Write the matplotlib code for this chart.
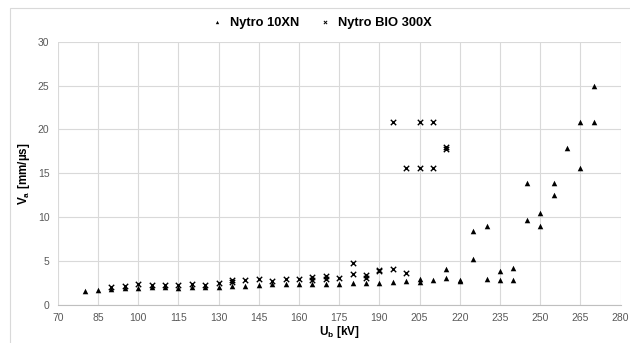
import matplotlib.pyplot as plt

plt.rcParams['font.family'] = ['Liberation Sans', 'DejaVu Sans']

# Nytro 10XN (triangles)
u_10xn = [80, 85, 90, 95, 100, 105, 110, 115, 120, 125, 130, 135, 140, 145, 150,
          155, 160, 165, 170, 175, 180, 185, 190, 195, 200, 205, 205, 210, 215, 215,
          220, 220, 225, 225, 230, 230, 235, 235, 240, 240, 245, 245, 250, 250, 255,
          255, 260, 265, 265, 270, 270]
va_10xn = [1.6, 1.65, 1.75, 1.85, 1.95, 2.0, 2.0, 1.95, 2.0, 2.0, 2.05, 2.1, 2.15, 2.25, 2.3,
           2.35, 2.35, 2.4, 2.4, 2.4, 2.5, 2.45, 2.5, 2.55, 2.65, 2.6, 2.95, 2.75, 3.05, 4.1,
           2.65, 2.8, 5.2, 8.4, 2.95, 8.95, 2.85, 3.8, 2.85, 4.2, 9.65, 13.9, 8.95, 10.45, 12.5,
           13.9, 17.9, 15.6, 20.8, 20.8, 25.0]

# Nytro BIO 300X (crosses)
u_bio = [90, 95, 100, 105, 110, 115, 120, 125, 130, 135, 135, 140, 145, 150, 155,
         160, 165, 165, 170, 170, 175, 180, 180, 185, 185, 190, 190, 195, 200,
         195, 200, 205, 205, 210, 210, 215, 215]
va_bio = [2.0, 2.15, 2.3, 2.2, 2.25, 2.25, 2.3, 2.2, 2.45, 2.6, 2.85, 2.85, 2.9, 2.7, 2.9,
          2.95, 2.85, 3.2, 2.95, 3.3, 3.05, 3.45, 4.7, 3.05, 3.35, 3.85, 4.0, 4.1, 3.55,
          20.8, 15.6, 15.6, 20.8, 15.6, 20.8, 17.75, 17.95]

fig = plt.figure(figsize=(6.3, 3.43), dpi=100)
ax = fig.add_axes([0.0916, 0.112, 0.8934, 0.766])

ax.scatter(u_10xn, va_10xn, marker='^', s=16, color='black', linewidths=0,
           label='Nytro 10XN', zorder=3)
ax.scatter(u_bio, va_bio, marker='x', s=15, color='black', linewidths=1.0,
           label='Nytro BIO 300X', zorder=3)

ax.set_xlim(70, 280)
ax.set_ylim(0, 30)
ax.set_xticks(range(70, 281, 15))
ax.set_yticks(range(0, 31, 5))
ax.grid(True, color='#d9d9d9', linewidth=0.8)
ax.set_axisbelow(True)
ax.tick_params(length=0, labelsize=7.5, colors='#595959', pad=6)
for s in ['top', 'right', 'left']:
    ax.spines[s].set_visible(False)
ax.spines['bottom'].set_color('#bfbfbf')

ax.set_xlabel(r'U$_\mathregular{b}$ [kV]', fontsize=8.5, fontweight='bold', labelpad=1)
ax.set_ylabel(r'V$_\mathregular{a}$ [mm/µs]', fontsize=8.5, fontweight='bold', labelpad=4)

leg = fig.legend(loc='upper center', bbox_to_anchor=(0.505, 0.985), ncol=2, frameon=False,
                 prop={'weight': 'bold', 'size': 9.3}, handletextpad=0.0,
                 columnspacing=1.0, markerscale=0.6)
leg.legend_handles[1].set_linewidths([0.7])  # thinner legend cross

# outer chart-area border (cut off at right and bottom)
fig.patches.append(plt.Rectangle((10 / 630, -0.05), 1.0, 1 - 8 / 343 + 0.05,
                                 transform=fig.transFigure, fill=False,
                                 edgecolor='#d9d9d9', linewidth=0.8))

fig.savefig('out.png', dpi=100)
